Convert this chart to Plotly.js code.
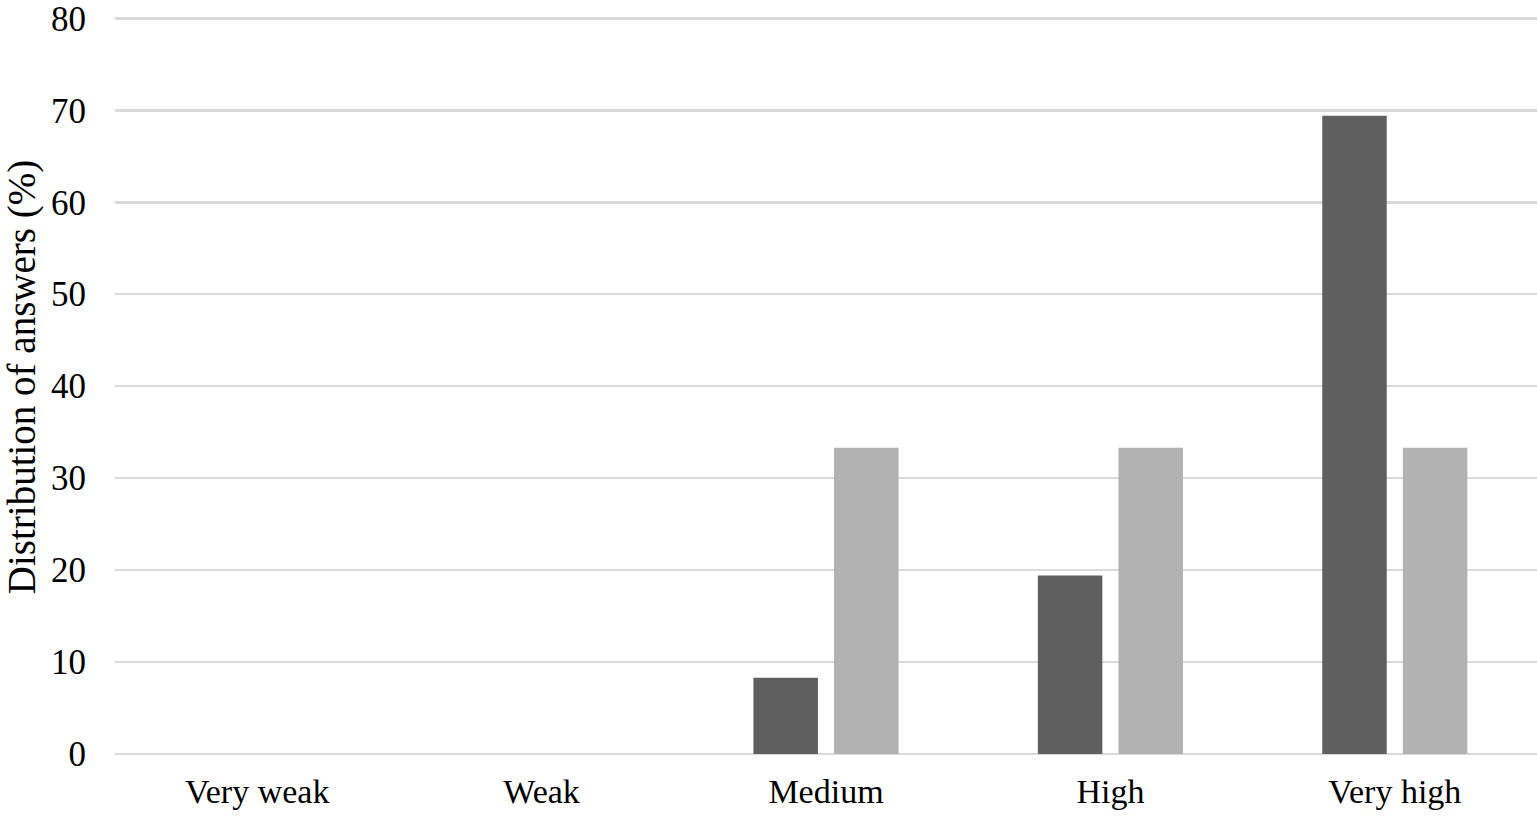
<!DOCTYPE html>
<html>
<head>
<meta charset="utf-8">
<script src="https://cdn.plot.ly/plotly-3.0.1.min.js"></script>
<style>
  html, body { margin: 0; padding: 0; background: #fff; }
  #grafico { width: 1537px; height: 817px; }
</style>
</head>
<body>
<div id="grafico"></div>
<script>
// categorías y valores
const categorias = ['Very weak', 'Weak', 'Medium', 'High', 'Very high'];
const serieOscura = [0, 0, 8.3, 19.4, 69.4];
const serieClara = [0, 0, 33.3, 33.3, 33.3];
const ticksY = [0, 10, 20, 30, 40, 50, 60, 70, 80];

const fuente = 'Liberation Serif, Times New Roman, serif';

const barrasOscuras = {
    x: categorias,
    y: serieOscura,
    type: 'bar',
    name: 'Series 1',
    marker: { color: '#5f5f5f' },
    hoverinfo: 'x+y'
};

const barrasClaras = {
    x: categorias,
    y: serieClara,
    type: 'bar',
    name: 'Series 2',
    marker: { color: '#b2b2b2' },
    hoverinfo: 'x+y'
};

const layout = {
    width: 1537,
    height: 817,
    margin: { l: 115, r: 0, t: 0, b: 63 },
    paper_bgcolor: '#fff',
    plot_bgcolor: '#fff',
    showlegend: false,
    barmode: 'group',
    bargap: 0.433,
    bargroupgap: 0.2,
    font: { family: fuente, color: '#000', size: 34 },
    xaxis: {
        showgrid: false,
        showline: false,
        zeroline: false,
        ticks: '',
        ticklabelstandoff: 14,
        tickfont: { family: fuente, size: 34, color: '#000' }
    },
    yaxis: {
        // rango hasta 82 para que la línea de 80 no quede en el borde y se dibuje
        range: [0, 82],
        tickvals: ticksY,
        ticktext: ticksY.map(String),
        ticklabeloverflow: 'allow',
        showgrid: true,
        gridcolor: '#d9d9d9',
        gridwidth: 2.5,
        zeroline: true,
        zerolinecolor: '#d9d9d9',
        zerolinewidth: 2.5,
        showline: false,
        ticks: '',
        ticklabelstandoff: 28,
        tickfont: { family: fuente, size: 35, color: '#000' },
        title: {
            text: 'Distribution of answers (%)',
            font: { family: fuente, size: 39, color: '#000' },
            standoff: 6
        }
    }
};

Plotly.newPlot('grafico', [barrasOscuras, barrasClaras], layout, { displayModeBar: false, staticPlot: true });
</script>
</body>
</html>
